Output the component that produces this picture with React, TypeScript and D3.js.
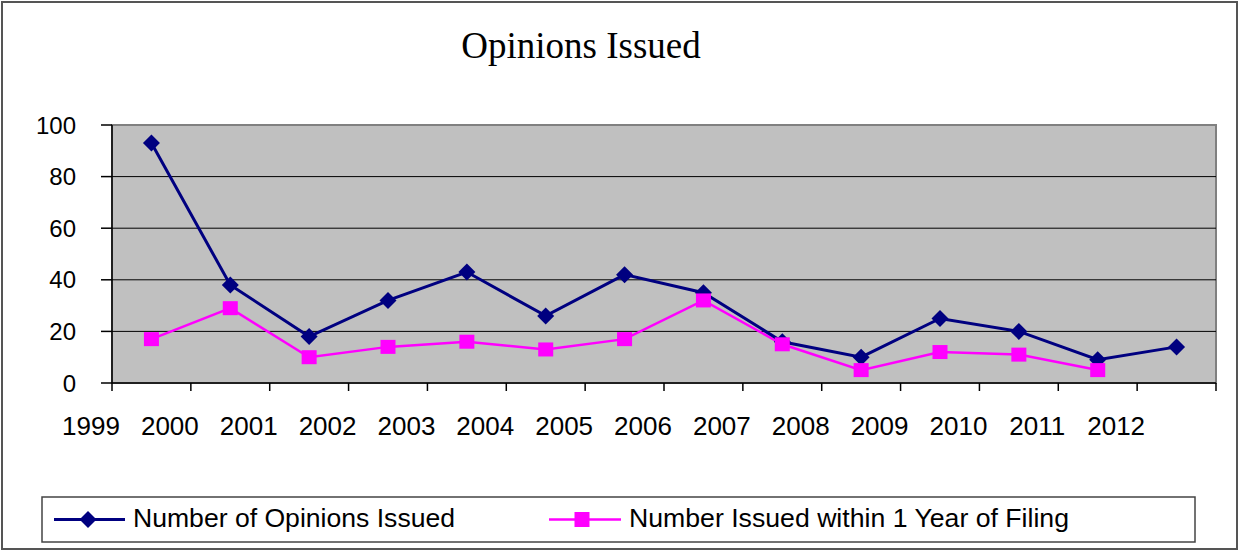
import React from "react";
import * as d3 from "d3";

const tickLabels = ["1999", "2000", "2001", "2002", "2003", "2004", "2005", "2006", "2007", "2008", "2009", "2010", "2011", "2012"];
const opinions = [93, 38, 18, 32, 43, 26, 42, 35, 16, 10, 25, 20, 9, 14];
const withinYear: (number | null)[] = [17, 29, 10, 14, 16, 13, 17, 32, 15, 5, 12, 11, 5, null];
const yTicks = [0, 20, 40, 60, 80, 100];

const W = 1239;
const H = 551;
const plot = { left: 112, right: 1216, top: 125, bottom: 383 };

export default function App() {
  const n = opinions.length;
  const x = d3.scaleLinear().domain([0, n]).range([plot.left, plot.right]);
  const y = d3.scaleLinear().domain([0, 100]).range([plot.bottom, plot.top]);

  const line = d3
    .line<number | null>()
    .defined((d) => d !== null)
    .x((_, i) => x(i + 0.5))
    .y((d) => y(d as number));

  const blue = "#000080";
  const pink = "#FF00FF";
  const sans = "'Liberation Sans', Arial, sans-serif";

  const diamond = (cx: number, cy: number, r: number) =>
    `M${cx},${cy - r}L${cx + r},${cy}L${cx},${cy + r}L${cx - r},${cy}Z`;

  return (
    <svg
      width={W}
      height={H}
      style={{ position: "absolute", left: 0, top: 0, background: "#fff" }}
    >
      <rect x={2} y={2} width={1235} height={547} fill="#fff" stroke="#555" strokeWidth={2} />
      <text
        x={581}
        y={58}
        textAnchor="middle"
        fontFamily="'Liberation Serif', 'Times New Roman', serif"
        fontSize={37}
        fill="#000"
      >
        Opinions Issued
      </text>

      {/* plot area */}
      <rect
        x={plot.left}
        y={plot.top}
        width={plot.right - plot.left}
        height={plot.bottom - plot.top}
        fill="#C0C0C0"
        stroke="#808080"
        strokeWidth={2}
      />
      {yTicks
        .filter((t) => t > 0 && t < 100)
        .map((t) => (
          <line key={t} x1={plot.left} x2={plot.right} y1={y(t)} y2={y(t)} stroke="#000" strokeWidth={1} />
        ))}
      {/* axes */}
      <line x1={plot.left} x2={plot.left} y1={plot.top} y2={plot.bottom} stroke="#000" strokeWidth={1.5} />
      <line x1={plot.left} x2={plot.right} y1={plot.bottom} y2={plot.bottom} stroke="#000" strokeWidth={1.5} />
      {yTicks.map((t) => (
        <g key={t}>
          <line x1={plot.left - 11} x2={plot.left} y1={y(t)} y2={y(t)} stroke="#000" strokeWidth={1.5} />
          <text x={76} y={y(t) + 8.5} textAnchor="end" fontFamily={sans} fontSize={24} fill="#000">
            {t}
          </text>
        </g>
      ))}
      {d3.range(n + 1).map((i) => (
        <line key={i} x1={x(i)} x2={x(i)} y1={plot.bottom} y2={plot.bottom + 8} stroke="#000" strokeWidth={1.5} />
      ))}
      {tickLabels.map((lab, i) => (
        <text key={lab} x={x(i) - 21} y={435} textAnchor="middle" fontFamily={sans} fontSize={26} fill="#000">
          {lab}
        </text>
      ))}

      {/* series */}
      <path d={line(withinYear) || ""} fill="none" stroke={pink} strokeWidth={2.5} />
      <path d={line(opinions) || ""} fill="none" stroke={blue} strokeWidth={3} />
      {opinions.map((v, i) => (
        <path key={"d" + i} d={diamond(x(i + 0.5), y(v), 8.5)} fill={blue} />
      ))}
      {withinYear.map((v, i) =>
        v === null ? null : (
          <rect key={"s" + i} x={x(i + 0.5) - 7.5} y={y(v) - 7} width={15} height={14} fill={pink} />
        )
      )}

      {/* legend */}
      <rect x={42} y={497} width={1153} height={45} fill="#fff" stroke="#444" strokeWidth={1.5} />
      <line x1={54} x2={125} y1={519.5} y2={519.5} stroke={blue} strokeWidth={3} />
      <path d={diamond(88, 519.5, 8.5)} fill={blue} />
      <text x={133} y={527} fontFamily={sans} fontSize={26} fill="#000" textLength={322} lengthAdjust="spacingAndGlyphs">
        Number of Opinions Issued
      </text>
      <line x1={549} x2={621} y1={519.5} y2={519.5} stroke={pink} strokeWidth={2.5} />
      <rect x={574.5} y={512} width={15} height={15} fill={pink} />
      <text x={629} y={527} fontFamily={sans} fontSize={26} fill="#000" textLength={440} lengthAdjust="spacingAndGlyphs">
        Number Issued within 1 Year of Filing
      </text>
    </svg>
  );
}
